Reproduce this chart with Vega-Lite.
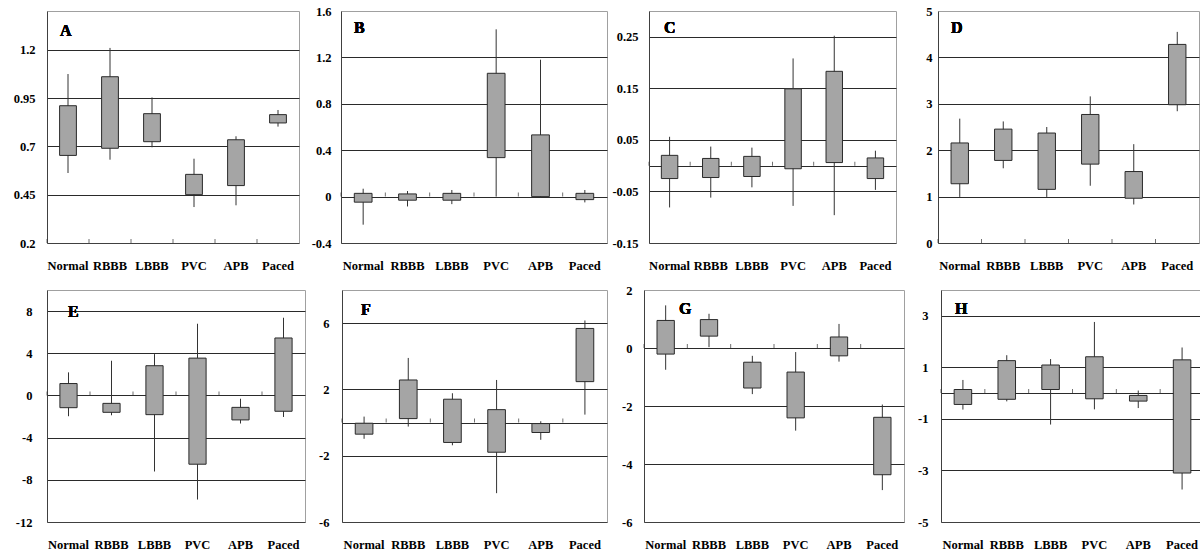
{
  "$schema": "https://vega.github.io/schema/vega-lite/v6.json",
  "padding": {"left": 12, "top": 4, "right": 0, "bottom": 0},
  "background": "#ffffff",
  "bounds": "full",
  "spacing": 11,
  "config": {
    "locale": {"number": {"decimal": ".", "thousands": ",", "grouping": [3], "currency": ["$", ""], "minus": "-"}},
    "view": {"stroke": "#a0a0a0", "strokeWidth": 1},
    "axis": {"labelFont": "Liberation Serif", "labelFontWeight": "bold", "labelFontSize": 12.5, "labelColor": "#000000", "ticks": false, "tickSize": 0, "domainColor": "#404040", "gridColor": "#2a2a2a", "gridOpacity": 1, "labelOverlap": false, "labelAngle": 0},
    "text": {"font": "Liberation Serif"}
  },
  "data": {"values": [
    {"panel": "A", "cat": "Normal", "lo": 0.562, "q1": 0.653, "q3": 0.910, "hi": 1.074},
    {"panel": "A", "cat": "RBBB", "lo": 0.631, "q1": 0.690, "q3": 1.060, "hi": 1.209},
    {"panel": "A", "cat": "LBBB", "lo": 0.695, "q1": 0.724, "q3": 0.869, "hi": 0.953},
    {"panel": "A", "cat": "PVC", "lo": 0.386, "q1": 0.450, "q3": 0.555, "hi": 0.636},
    {"panel": "A", "cat": "APB", "lo": 0.395, "q1": 0.497, "q3": 0.734, "hi": 0.752},
    {"panel": "A", "cat": "Paced", "lo": 0.802, "q1": 0.821, "q3": 0.864, "hi": 0.888},
    {"panel": "B", "cat": "Normal", "lo": -0.242, "q1": -0.048, "q3": 0.028, "hi": 0.068},
    {"panel": "B", "cat": "RBBB", "lo": -0.085, "q1": -0.031, "q3": 0.023, "hi": 0.048},
    {"panel": "B", "cat": "LBBB", "lo": -0.065, "q1": -0.031, "q3": 0.028, "hi": 0.057},
    {"panel": "B", "cat": "PVC", "lo": 0.0, "q1": 0.336, "q3": 1.063, "hi": 1.442},
    {"panel": "B", "cat": "APB", "lo": -0.01, "q1": 0.0, "q3": 0.532, "hi": 1.18},
    {"panel": "B", "cat": "Paced", "lo": -0.05, "q1": -0.026, "q3": 0.028, "hi": 0.057},
    {"panel": "C", "cat": "Normal", "lo": -0.081, "q1": -0.025, "q3": 0.020, "hi": 0.056},
    {"panel": "C", "cat": "RBBB", "lo": -0.062, "q1": -0.023, "q3": 0.014, "hi": 0.037},
    {"panel": "C", "cat": "LBBB", "lo": -0.042, "q1": -0.021, "q3": 0.018, "hi": 0.035},
    {"panel": "C", "cat": "PVC", "lo": -0.078, "q1": -0.006, "q3": 0.149, "hi": 0.208},
    {"panel": "C", "cat": "APB", "lo": -0.096, "q1": 0.006, "q3": 0.183, "hi": 0.252},
    {"panel": "C", "cat": "Paced", "lo": -0.047, "q1": -0.025, "q3": 0.015, "hi": 0.029},
    {"panel": "D", "cat": "Normal", "lo": 0.993, "q1": 1.277, "q3": 2.156, "hi": 2.68},
    {"panel": "D", "cat": "RBBB", "lo": 1.61, "q1": 1.78, "q3": 2.454, "hi": 2.62},
    {"panel": "D", "cat": "LBBB", "lo": 0.993, "q1": 1.156, "q3": 2.37, "hi": 2.50},
    {"panel": "D", "cat": "PVC", "lo": 1.234, "q1": 1.70, "q3": 2.77, "hi": 3.16},
    {"panel": "D", "cat": "APB", "lo": 0.83, "q1": 0.965, "q3": 1.54, "hi": 2.13},
    {"panel": "D", "cat": "Paced", "lo": 2.84, "q1": 2.98, "q3": 4.28, "hi": 4.55},
    {"panel": "E", "cat": "Normal", "lo": -1.97, "q1": -1.16, "q3": 1.13, "hi": 2.19},
    {"panel": "E", "cat": "RBBB", "lo": -1.88, "q1": -1.60, "q3": -0.75, "hi": 3.29},
    {"panel": "E", "cat": "LBBB", "lo": -7.21, "q1": -1.82, "q3": 2.82, "hi": 3.92},
    {"panel": "E", "cat": "PVC", "lo": -9.87, "q1": -6.52, "q3": 3.54, "hi": 6.80},
    {"panel": "E", "cat": "APB", "lo": -2.66, "q1": -2.32, "q3": -1.13, "hi": -0.31},
    {"panel": "E", "cat": "Paced", "lo": -2.04, "q1": -1.50, "q3": 5.45, "hi": 7.37},
    {"panel": "F", "cat": "Normal", "lo": -0.98, "q1": -0.70, "q3": -0.04, "hi": 0.36},
    {"panel": "F", "cat": "RBBB", "lo": -0.24, "q1": 0.24, "q3": 2.57, "hi": 3.90},
    {"panel": "F", "cat": "LBBB", "lo": -1.37, "q1": -1.20, "q3": 1.41, "hi": 1.77},
    {"panel": "F", "cat": "PVC", "lo": -4.26, "q1": -1.79, "q3": 0.78, "hi": 2.57},
    {"panel": "F", "cat": "APB", "lo": -1.04, "q1": -0.60, "q3": -0.06, "hi": 0.08},
    {"panel": "F", "cat": "Paced", "lo": 0.48, "q1": 2.47, "q3": 5.68, "hi": 6.16},
    {"panel": "G", "cat": "Normal", "lo": -0.75, "q1": -0.21, "q3": 0.95, "hi": 1.47},
    {"panel": "G", "cat": "RBBB", "lo": 0.03, "q1": 0.41, "q3": 0.98, "hi": 1.18},
    {"panel": "G", "cat": "LBBB", "lo": -1.59, "q1": -1.38, "q3": -0.49, "hi": -0.27},
    {"panel": "G", "cat": "PVC", "lo": -2.85, "q1": -2.41, "q3": -0.83, "hi": -0.14},
    {"panel": "G", "cat": "APB", "lo": -0.47, "q1": -0.27, "q3": 0.38, "hi": 0.83},
    {"panel": "G", "cat": "Paced", "lo": -4.90, "q1": -4.37, "q3": -2.39, "hi": -1.95},
    {"panel": "H", "cat": "Normal", "lo": -0.64, "q1": -0.44, "q3": 0.14, "hi": 0.51},
    {"panel": "H", "cat": "RBBB", "lo": -0.32, "q1": -0.24, "q3": 1.26, "hi": 1.47},
    {"panel": "H", "cat": "LBBB", "lo": -1.22, "q1": 0.14, "q3": 1.09, "hi": 1.32},
    {"panel": "H", "cat": "PVC", "lo": -0.63, "q1": -0.22, "q3": 1.41, "hi": 2.76},
    {"panel": "H", "cat": "APB", "lo": -0.58, "q1": -0.31, "q3": -0.09, "hi": 0.10},
    {"panel": "H", "cat": "Paced", "lo": -3.74, "q1": -3.10, "q3": 1.29, "hi": 1.77}
  ]},
  "vconcat": [
    {
      "bounds": "flush",
      "spacing": 42,
      "hconcat": [
        {
          "width": 252, "height": 232,
          "transform": [{"filter": "datum.panel === 'A'"}],
          "encoding": {"x": {"field": "cat", "type": "nominal", "sort": ["Normal", "RBBB", "LBBB", "PVC", "APB", "Paced"], "scale": {"paddingInner": 0, "paddingOuter": 0}, "axis": {"title": null, "labelPadding": 16}}},
          "resolve": {"axis": {"y": "independent"}},
          "layer": [
            {"mark": {"type": "rule", "color": "#333333", "strokeWidth": 1},
             "encoding": {"y": {"field": "lo", "type": "quantitative", "scale": {"domain": [0.2, 1.4], "nice": false, "zero": false}, "axis": {"title": null, "values": [0.2, 0.45, 0.7, 0.95, 1.2], "grid": false, "labelPadding": 12, "format": "~g"}}, "y2": {"field": "hi"}}},
            {"mark": {"type": "bar", "width": {"band": 0.4}, "fill": "#a5a5a5", "stroke": "#2a2a2a", "strokeWidth": 1},
             "encoding": {"y": {"field": "q1", "type": "quantitative", "scale": {"domain": [0.2, 1.4], "nice": false, "zero": false}, "axis": {"orient": "right", "title": null, "values": [0.45, 0.7, 0.95, 1.2], "grid": true, "labels": false, "domain": false}}, "y2": {"field": "q3"}}},
            {"mark": {"type": "tick", "orient": "vertical", "size": 4, "thickness": 1, "yOffset": -2, "color": "#333333"},
             "encoding": {"x": {"field": "cat", "type": "nominal", "sort": ["Normal", "RBBB", "LBBB", "PVC", "APB", "Paced"], "bandPosition": 0, "axis": {"title": null, "labelPadding": 16}}, "y": {"datum": 0.2, "axis": null}}},
            {"mark": {"type": "text", "text": "A", "fontSize": 16, "fontWeight": "bold", "align": "left", "baseline": "alphabetic", "dx": 13, "color": "#000000"},
             "encoding": {"x": {"datum": "Normal", "type": "nominal", "bandPosition": 0, "axis": {"title": null, "labelPadding": 16}}, "y": {"datum": 1.27, "axis": null}}}
          ]
        },
        {
          "width": 266, "height": 232,
          "transform": [{"filter": "datum.panel === 'B'"}],
          "encoding": {"x": {"field": "cat", "type": "nominal", "sort": ["Normal", "RBBB", "LBBB", "PVC", "APB", "Paced"], "scale": {"paddingInner": 0, "paddingOuter": 0}, "axis": {"title": null, "labelPadding": 16}}},
          "resolve": {"axis": {"y": "independent"}},
          "layer": [
            {"mark": {"type": "rule", "color": "#333333", "strokeWidth": 1},
             "encoding": {"y": {"field": "lo", "type": "quantitative", "scale": {"domain": [-0.4, 1.6], "nice": false, "zero": false}, "axis": {"title": null, "values": [-0.4, 0, 0.4, 0.8, 1.2, 1.6], "grid": false, "labelPadding": 10, "format": "~g"}}, "y2": {"field": "hi"}}},
            {"mark": {"type": "bar", "width": {"band": 0.4}, "fill": "#a5a5a5", "stroke": "#2a2a2a", "strokeWidth": 1},
             "encoding": {"y": {"field": "q1", "type": "quantitative", "scale": {"domain": [-0.4, 1.6], "nice": false, "zero": false}, "axis": {"orient": "right", "title": null, "values": [0, 0.4, 0.8, 1.2], "grid": true, "labels": false, "domain": false}}, "y2": {"field": "q3"}}},
            {"mark": {"type": "tick", "orient": "vertical", "size": 4, "thickness": 1, "yOffset": -2, "color": "#333333"},
             "encoding": {"x": {"field": "cat", "type": "nominal", "sort": ["Normal", "RBBB", "LBBB", "PVC", "APB", "Paced"], "bandPosition": 0, "axis": {"title": null, "labelPadding": 16}}, "y": {"datum": 0, "axis": null}}},
            {"mark": {"type": "text", "text": "B", "fontSize": 16, "fontWeight": "bold", "align": "left", "baseline": "alphabetic", "dx": 13, "color": "#000000"},
             "encoding": {"x": {"datum": "Normal", "type": "nominal", "bandPosition": 0, "axis": {"title": null, "labelPadding": 16}}, "y": {"datum": 1.41, "axis": null}}}
          ]
        },
        {
          "width": 247, "height": 232,
          "transform": [{"filter": "datum.panel === 'C'"}],
          "encoding": {"x": {"field": "cat", "type": "nominal", "sort": ["Normal", "RBBB", "LBBB", "PVC", "APB", "Paced"], "scale": {"paddingInner": 0, "paddingOuter": 0}, "axis": {"title": null, "labelPadding": 16}}},
          "resolve": {"axis": {"y": "independent"}},
          "layer": [
            {"mark": {"type": "rule", "color": "#333333", "strokeWidth": 1},
             "encoding": {"y": {"field": "lo", "type": "quantitative", "scale": {"domain": [-0.15, 0.3], "nice": false, "zero": false}, "axis": {"title": null, "values": [-0.15, -0.05, 0.05, 0.15, 0.25], "grid": false, "labelPadding": 11, "format": ".2f"}}, "y2": {"field": "hi"}}},
            {"mark": {"type": "bar", "width": {"band": 0.4}, "fill": "#a5a5a5", "stroke": "#2a2a2a", "strokeWidth": 1},
             "encoding": {"y": {"field": "q1", "type": "quantitative", "scale": {"domain": [-0.15, 0.3], "nice": false, "zero": false}, "axis": {"orient": "right", "title": null, "values": [-0.05, 0, 0.05, 0.15, 0.25], "grid": true, "labels": false, "domain": false}}, "y2": {"field": "q3"}}},
            {"mark": {"type": "tick", "orient": "vertical", "size": 4, "thickness": 1, "yOffset": -2, "color": "#333333"},
             "encoding": {"x": {"field": "cat", "type": "nominal", "sort": ["Normal", "RBBB", "LBBB", "PVC", "APB", "Paced"], "bandPosition": 0, "axis": {"title": null, "labelPadding": 16}}, "y": {"datum": 0, "axis": null}}},
            {"mark": {"type": "text", "text": "C", "fontSize": 16, "fontWeight": "bold", "align": "left", "baseline": "alphabetic", "dx": 15, "color": "#000000"},
             "encoding": {"x": {"datum": "Normal", "type": "nominal", "bandPosition": 0, "axis": {"title": null, "labelPadding": 16}}, "y": {"datum": 0.257, "axis": null}}}
          ]
        },
        {
          "width": 261, "height": 232,
          "transform": [{"filter": "datum.panel === 'D'"}],
          "encoding": {"x": {"field": "cat", "type": "nominal", "sort": ["Normal", "RBBB", "LBBB", "PVC", "APB", "Paced"], "scale": {"paddingInner": 0, "paddingOuter": 0}, "axis": {"title": null, "labelPadding": 16}}},
          "resolve": {"axis": {"y": "independent"}},
          "layer": [
            {"mark": {"type": "rule", "color": "#333333", "strokeWidth": 1},
             "encoding": {"y": {"field": "lo", "type": "quantitative", "scale": {"domain": [0, 5], "nice": false, "zero": false}, "axis": {"title": null, "values": [0, 1, 2, 3, 4, 5], "grid": false, "labelPadding": 6, "format": "d"}}, "y2": {"field": "hi"}}},
            {"mark": {"type": "bar", "width": {"band": 0.4}, "fill": "#a5a5a5", "stroke": "#2a2a2a", "strokeWidth": 1},
             "encoding": {"y": {"field": "q1", "type": "quantitative", "scale": {"domain": [0, 5], "nice": false, "zero": false}, "axis": {"orient": "right", "title": null, "values": [1, 2, 3, 4], "grid": true, "labels": false, "domain": false}}, "y2": {"field": "q3"}}},
            {"mark": {"type": "tick", "orient": "vertical", "size": 4, "thickness": 1, "yOffset": -2, "color": "#333333"},
             "encoding": {"x": {"field": "cat", "type": "nominal", "sort": ["Normal", "RBBB", "LBBB", "PVC", "APB", "Paced"], "bandPosition": 0, "axis": {"title": null, "labelPadding": 16}}, "y": {"datum": 0, "axis": null}}},
            {"mark": {"type": "text", "text": "D", "fontSize": 16, "fontWeight": "bold", "align": "left", "baseline": "alphabetic", "dx": 13, "color": "#000000"},
             "encoding": {"x": {"datum": "Normal", "type": "nominal", "bandPosition": 0, "axis": {"title": null, "labelPadding": 16}}, "y": {"datum": 4.53, "axis": null}}}
          ]
        }
      ]
    },
    {
      "bounds": "flush",
      "spacing": 37,
      "hconcat": [
        {
          "width": 258, "height": 232,
          "transform": [{"filter": "datum.panel === 'E'"}],
          "encoding": {"x": {"field": "cat", "type": "nominal", "sort": ["Normal", "RBBB", "LBBB", "PVC", "APB", "Paced"], "scale": {"paddingInner": 0, "paddingOuter": 0}, "axis": {"title": null, "labelPadding": 16}}},
          "resolve": {"axis": {"y": "independent"}},
          "layer": [
            {"mark": {"type": "rule", "color": "#333333", "strokeWidth": 1},
             "encoding": {"y": {"field": "lo", "type": "quantitative", "scale": {"domain": [-12, 10], "nice": false, "zero": false}, "axis": {"title": null, "values": [-12, -8, -4, 0, 4, 8], "grid": false, "labelPadding": 15, "format": "d"}}, "y2": {"field": "hi"}}},
            {"mark": {"type": "bar", "width": {"band": 0.4}, "fill": "#a5a5a5", "stroke": "#2a2a2a", "strokeWidth": 1},
             "encoding": {"y": {"field": "q1", "type": "quantitative", "scale": {"domain": [-12, 10], "nice": false, "zero": false}, "axis": {"orient": "right", "title": null, "values": [-8, -4, 0, 4, 8], "grid": true, "labels": false, "domain": false}}, "y2": {"field": "q3"}}},
            {"mark": {"type": "tick", "orient": "vertical", "size": 4, "thickness": 1, "yOffset": -2, "color": "#333333"},
             "encoding": {"x": {"field": "cat", "type": "nominal", "sort": ["Normal", "RBBB", "LBBB", "PVC", "APB", "Paced"], "bandPosition": 0, "axis": {"title": null, "labelPadding": 16}}, "y": {"datum": 0, "axis": null}}},
            {"mark": {"type": "text", "text": "E", "fontSize": 16, "fontWeight": "bold", "align": "left", "baseline": "alphabetic", "dx": 21, "color": "#000000"},
             "encoding": {"x": {"datum": "Normal", "type": "nominal", "bandPosition": 0, "axis": {"title": null, "labelPadding": 16}}, "y": {"datum": 7.44, "axis": null}}}
          ]
        },
        {
          "width": 265, "height": 232,
          "transform": [{"filter": "datum.panel === 'F'"}],
          "encoding": {"x": {"field": "cat", "type": "nominal", "sort": ["Normal", "RBBB", "LBBB", "PVC", "APB", "Paced"], "scale": {"paddingInner": 0, "paddingOuter": 0}, "axis": {"title": null, "labelPadding": 16}}},
          "resolve": {"axis": {"y": "independent"}},
          "layer": [
            {"mark": {"type": "rule", "color": "#333333", "strokeWidth": 1},
             "encoding": {"y": {"field": "lo", "type": "quantitative", "scale": {"domain": [-6, 8], "nice": false, "zero": false}, "axis": {"title": null, "values": [-6, -2, 2, 6], "grid": false, "labelPadding": 13, "format": "d"}}, "y2": {"field": "hi"}}},
            {"mark": {"type": "bar", "width": {"band": 0.4}, "fill": "#a5a5a5", "stroke": "#2a2a2a", "strokeWidth": 1},
             "encoding": {"y": {"field": "q1", "type": "quantitative", "scale": {"domain": [-6, 8], "nice": false, "zero": false}, "axis": {"orient": "right", "title": null, "values": [-2, 0, 2, 6], "grid": true, "labels": false, "domain": false}}, "y2": {"field": "q3"}}},
            {"mark": {"type": "tick", "orient": "vertical", "size": 4, "thickness": 1, "yOffset": -2, "color": "#333333"},
             "encoding": {"x": {"field": "cat", "type": "nominal", "sort": ["Normal", "RBBB", "LBBB", "PVC", "APB", "Paced"], "bandPosition": 0, "axis": {"title": null, "labelPadding": 16}}, "y": {"datum": 0, "axis": null}}},
            {"mark": {"type": "text", "text": "F", "fontSize": 16, "fontWeight": "bold", "align": "left", "baseline": "alphabetic", "dx": 19, "color": "#000000"},
             "encoding": {"x": {"datum": "Normal", "type": "nominal", "bandPosition": 0, "axis": {"title": null, "labelPadding": 16}}, "y": {"datum": 6.49, "axis": null}}}
          ]
        },
        {
          "width": 260, "height": 232,
          "transform": [{"filter": "datum.panel === 'G'"}],
          "encoding": {"x": {"field": "cat", "type": "nominal", "sort": ["Normal", "RBBB", "LBBB", "PVC", "APB", "Paced"], "scale": {"paddingInner": 0, "paddingOuter": 0}, "axis": {"title": null, "labelPadding": 16}}},
          "resolve": {"axis": {"y": "independent"}},
          "layer": [
            {"mark": {"type": "rule", "color": "#333333", "strokeWidth": 1},
             "encoding": {"y": {"field": "lo", "type": "quantitative", "scale": {"domain": [-6, 2], "nice": false, "zero": false}, "axis": {"title": null, "values": [-6, -4, -2, 0, 2], "grid": false, "labelPadding": 12, "format": "d"}}, "y2": {"field": "hi"}}},
            {"mark": {"type": "bar", "width": {"band": 0.4}, "fill": "#a5a5a5", "stroke": "#2a2a2a", "strokeWidth": 1},
             "encoding": {"y": {"field": "q1", "type": "quantitative", "scale": {"domain": [-6, 2], "nice": false, "zero": false}, "axis": {"orient": "right", "title": null, "values": [-4, -2, 0], "grid": true, "labels": false, "domain": false}}, "y2": {"field": "q3"}}},
            {"mark": {"type": "tick", "orient": "vertical", "size": 4, "thickness": 1, "yOffset": -2, "color": "#333333"},
             "encoding": {"x": {"field": "cat", "type": "nominal", "sort": ["Normal", "RBBB", "LBBB", "PVC", "APB", "Paced"], "bandPosition": 0, "axis": {"title": null, "labelPadding": 16}}, "y": {"datum": 0, "axis": null}}},
            {"mark": {"type": "text", "text": "G", "fontSize": 16, "fontWeight": "bold", "align": "left", "baseline": "alphabetic", "dx": 35, "color": "#000000"},
             "encoding": {"x": {"datum": "Normal", "type": "nominal", "bandPosition": 0, "axis": {"title": null, "labelPadding": 16}}, "y": {"datum": 1.17, "axis": null}}}
          ]
        },
        {
          "width": 263, "height": 232,
          "transform": [{"filter": "datum.panel === 'H'"}],
          "encoding": {"x": {"field": "cat", "type": "nominal", "sort": ["Normal", "RBBB", "LBBB", "PVC", "APB", "Paced"], "scale": {"paddingInner": 0, "paddingOuter": 0}, "axis": {"title": null, "labelPadding": 16}}},
          "resolve": {"axis": {"y": "independent"}},
          "layer": [
            {"mark": {"type": "rule", "color": "#333333", "strokeWidth": 1},
             "encoding": {"y": {"field": "lo", "type": "quantitative", "scale": {"domain": [-5, 4], "nice": false, "zero": false}, "axis": {"title": null, "values": [-5, -3, -1, 1, 3], "grid": false, "labelPadding": 13, "format": "d"}}, "y2": {"field": "hi"}}},
            {"mark": {"type": "bar", "width": {"band": 0.4}, "fill": "#a5a5a5", "stroke": "#2a2a2a", "strokeWidth": 1},
             "encoding": {"y": {"field": "q1", "type": "quantitative", "scale": {"domain": [-5, 4], "nice": false, "zero": false}, "axis": {"orient": "right", "title": null, "values": [-3, -1, 0, 1, 3], "grid": true, "labels": false, "domain": false}}, "y2": {"field": "q3"}}},
            {"mark": {"type": "tick", "orient": "vertical", "size": 4, "thickness": 1, "yOffset": -2, "color": "#333333"},
             "encoding": {"x": {"field": "cat", "type": "nominal", "sort": ["Normal", "RBBB", "LBBB", "PVC", "APB", "Paced"], "bandPosition": 0, "axis": {"title": null, "labelPadding": 16}}, "y": {"datum": 0, "axis": null}}},
            {"mark": {"type": "text", "text": "H", "fontSize": 16, "fontWeight": "bold", "align": "left", "baseline": "alphabetic", "dx": 14, "color": "#000000"},
             "encoding": {"x": {"datum": "Normal", "type": "nominal", "bandPosition": 0, "axis": {"title": null, "labelPadding": 16}}, "y": {"datum": 3.07, "axis": null}}}
          ]
        }
      ]
    }
  ]
}
